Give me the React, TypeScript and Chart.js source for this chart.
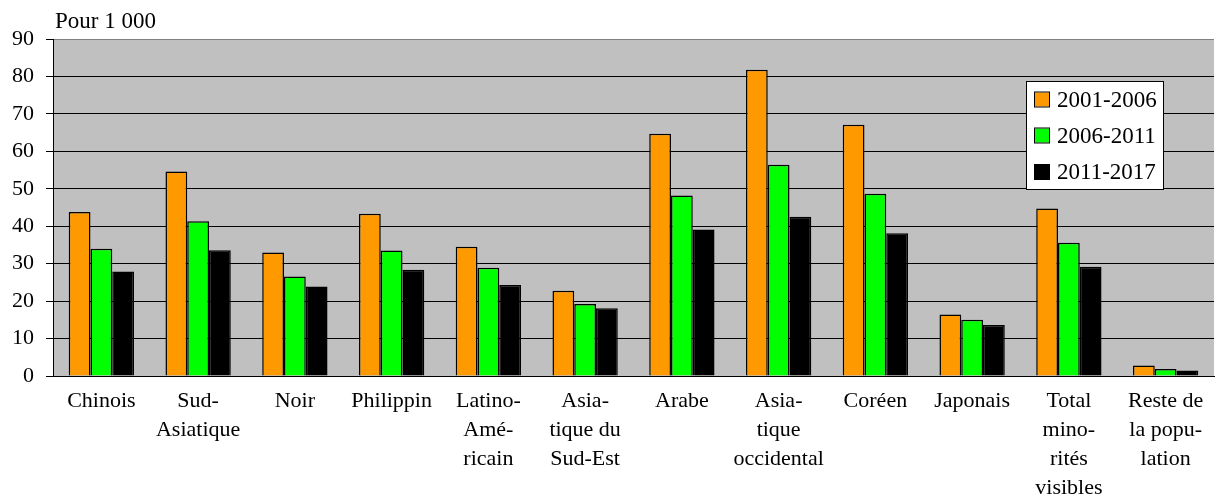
import React, { useEffect, useRef } from "react";
import { Chart, registerables } from "chart.js";

Chart.register(...registerables);

const categories: (string | string[])[] = [
  "Chinois",
  ["Sud-", "Asiatique"],
  "Noir",
  "Philippin",
  ["Latino-", "Amé-", "ricain"],
  ["Asia-", "tique du", "Sud-Est"],
  "Arabe",
  ["Asia-", "tique", "occidental"],
  "Coréen",
  "Japonais",
  ["Total", "mino-", "rités", "visibles"],
  ["Reste de", "la popu-", "lation"],
];

const seriesLabels = ["2001-2006", "2006-2011", "2011-2017"];
const values2001 = [43.8, 54.6, 33.0, 43.3, 34.5, 22.8, 64.7, 81.8, 67.1, 16.4, 44.7, 2.8];
const values2006 = [34.0, 41.3, 26.6, 33.5, 28.9, 19.2, 48.2, 56.4, 48.7, 15.0, 35.6, 1.9];
const values2011 = [27.9, 33.6, 23.9, 28.4, 24.3, 18.1, 39.1, 42.5, 38.1, 13.6, 29.2, 1.5];
const seriesColors = ["#FF9900", "#00FF00", "#000000"];
const unitLabel = "Pour 1 000";

const FONT = "'Liberation Serif', 'Times New Roman', serif";

const bgPlugin = {
  id: "plotBg",
  beforeDraw(chart: any) {
    const { ctx, chartArea } = chart;
    ctx.save();
    ctx.fillStyle = "#C0C0C0";
    ctx.fillRect(chartArea.left, chartArea.top, chartArea.right - chartArea.left, chartArea.bottom - chartArea.top);
    ctx.restore();
  },
};

const overlayPlugin = {
  id: "overlay",
  afterDraw(chart: any) {
    const { ctx } = chart;
    ctx.save();
    // unit label
    ctx.fillStyle = "#000";
    ctx.font = `23px ${FONT}`;
    ctx.textBaseline = "alphabetic";
    ctx.textAlign = "left";
    ctx.fillText(unitLabel, 55, 28);

    // legend
    const bx = 1026, by = 81, bw = 138, bh = 109;
    ctx.fillStyle = "#FFFFFF";
    ctx.fillRect(bx, by, bw, bh);
    ctx.strokeStyle = "#000";
    ctx.lineWidth = 1;
    ctx.strokeRect(bx + 0.5, by + 0.5, bw - 1, bh - 1);
    const rows = [99.5, 135.5, 172];
    ctx.font = `23px ${FONT}`;
    ctx.textBaseline = "middle";
    seriesLabels.forEach((lab, i) => {
      const cy = rows[i];
      ctx.fillStyle = seriesColors[i];
      ctx.fillRect(1035, cy - 7, 14, 14);
      ctx.strokeStyle = "#000";
      ctx.lineWidth = 1;
      ctx.strokeRect(1034.5, cy - 7.5, 15, 15);
      ctx.fillStyle = "#000";
      ctx.fillText(lab, 1057, cy + 1);
    });
    ctx.restore();
  },
};

export default function App() {
  const ref = useRef<HTMLCanvasElement | null>(null);
  useEffect(() => {
    if (!ref.current) return;
    const datasets = [values2001, values2006, values2011].map((vals, i) => ({
      label: seriesLabels[i],
      data: vals,
      backgroundColor: seriesColors[i],
      borderColor: "#000",
      borderWidth: 1.5,
      barPercentage: 1,
      categoryPercentage: 0.675,
    }));
    const chart = new Chart(ref.current, {
      type: "bar",
      data: { labels: categories as any, datasets },
      options: {
        responsive: false,
        animation: false,
        devicePixelRatio: 1,
        layout: { padding: { top: 39, right: 1, left: 0, bottom: 0 }, autoPadding: false } as any,
        plugins: {
          legend: { display: false },
          title: { display: false },
          tooltip: { enabled: false },
        },
        scales: {
          x: {
            grid: { display: false, drawTicks: false },
            border: { display: true, color: "#000", width: 1 },
            ticks: {
              color: "#000",
              font: { family: FONT, size: 22, lineHeight: 1.32 } as any,
              maxRotation: 0,
              autoSkip: false,
              padding: 11,
            },
            afterFit(scale: any) {
              scale.height = 121;
            },
          },
          y: {
            min: 0,
            max: 90,
            ticks: {
              stepSize: 10,
              color: "#000",
              font: { family: FONT, size: 22 },
              padding: 12,
            },
            grid: {
              color: (c: any) => (c.tick && c.tick.value === 90 ? "#808080" : "#000"),
              tickColor: "#000",
              tickLength: 7,
              lineWidth: 1,
            },
            border: { display: true, color: "#000", width: 1 },
            afterFit(scale: any) {
              scale.width = 53;
            },
          },
        },
      },
      plugins: [bgPlugin, overlayPlugin],
    } as any);
    return () => chart.destroy();
  }, []);
  return (
    <div style={{ position: "absolute", left: 0, top: 0, width: 1215, height: 497, background: "#fff" }}>
      <canvas ref={ref} width={1215} height={497} style={{ display: "block" }} />
    </div>
  );
}
